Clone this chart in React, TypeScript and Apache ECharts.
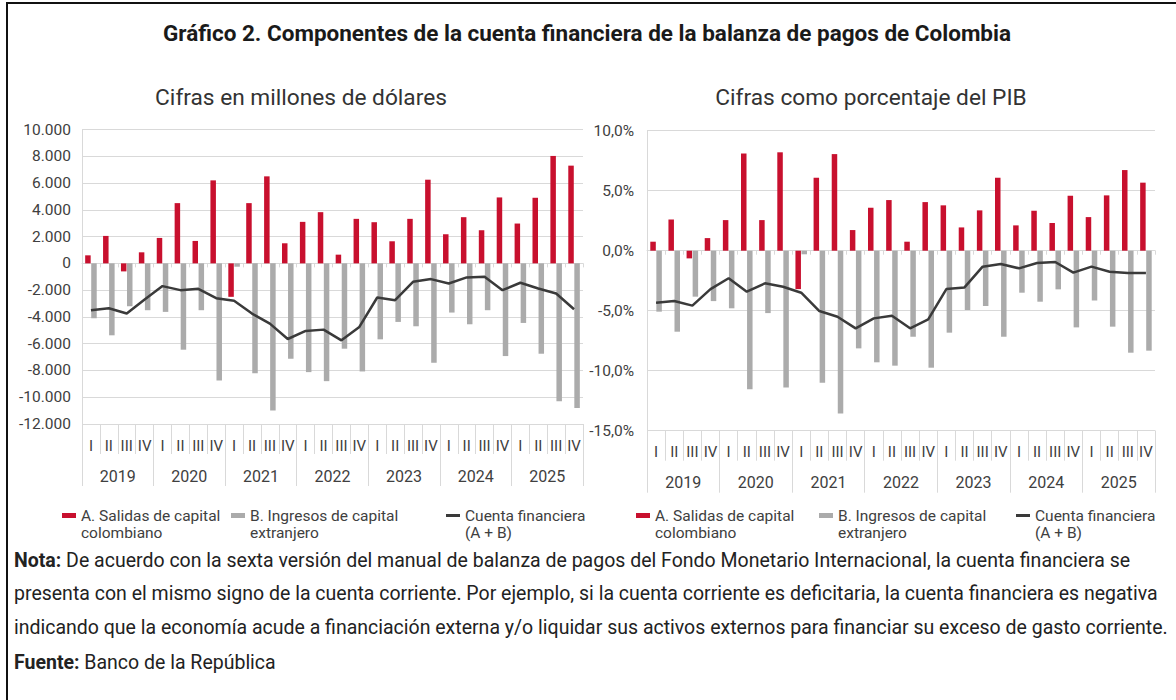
import React, { useEffect, useRef } from "react";
import * as echarts from "echarts";

const years = ["2019", "2020", "2021", "2022", "2023", "2024", "2025"];
const quarterLabels = ["I", "II", "III", "IV"];

// Millones de dólares
const salidasUSD = [600, 2050, -600, 825, 1900, 4500, 1675, 6200, -2500, 4500, 6500, 1500, 3100, 3825, 650, 3325, 3075, 1650, 3325, 6250, 2175, 3450, 2475, 4925, 2975, 4900, 8025, 7300];
const ingresosUSD = [-4100, -5375, -3200, -3500, -3625, -6450, -3500, -8750, -250, -8200, -11000, -7125, -8125, -8800, -6375, -8075, -5675, -4375, -4700, -7425, -3675, -4550, -3500, -6925, -4450, -6750, -10300, -10800];
const cuentaUSD = [-3500, -3350, -3750, -2700, -1700, -2000, -1900, -2600, -2800, -3750, -4500, -5650, -5050, -4950, -5750, -4750, -2550, -2750, -1375, -1175, -1500, -1050, -1000, -2000, -1450, -1875, -2250, -3425];

// Porcentaje del PIB
const salidasPIB = [0.75, 2.6, -0.64, 1.05, 2.55, 8.1, 2.55, 8.2, -3.2, 6.08, 8.05, 1.72, 3.58, 4.22, 0.75, 4.05, 3.78, 1.94, 3.36, 6.08, 2.11, 3.33, 2.31, 4.58, 2.8, 4.61, 6.72, 5.67];
const ingresosPIB = [-5.08, -6.75, -3.83, -4.2, -4.8, -11.55, -5.2, -11.4, -0.3, -11.0, -13.56, -8.14, -9.3, -9.58, -7.17, -9.75, -6.83, -4.94, -4.61, -7.17, -3.5, -4.25, -3.22, -6.39, -4.15, -6.33, -8.5, -8.33];
const cuentaPIB = [-4.33, -4.19, -4.58, -3.2, -2.3, -3.42, -2.72, -3.0, -3.5, -5.03, -5.5, -6.47, -5.64, -5.42, -6.47, -5.72, -3.2, -3.06, -1.33, -1.11, -1.47, -1.03, -0.94, -1.83, -1.33, -1.75, -1.86, -1.86];

const usdTicks = { min: -12000, max: 10000, interval: 2000 };
const pibTicks = { min: -15, max: 10, interval: 5 };

const nameA = "A. Salidas de capital\ncolombiano";
const nameB = "B. Ingresos de capital\nextranjero";
const nameC = "Cuenta financiera\n(A + B)";

const categories = years.flatMap((y) => quarterLabels.map((q) => q + " " + y));

const RED = "#C8102E";
const GRAY = "#ABABAB";
const DARK = "#3a3a3a";
const GRID = "#d9d9d9";
const TXT = "#404040";
const FONT = "Roboto";

function fmtUSD(v: number) {
  const s = Math.abs(v).toString().replace(/\B(?=(\d{3})+(?!\d))/g, ".");
  return (v < 0 ? "-" : "") + s;
}
function fmtPIB(v: number) {
  return v.toFixed(1).replace(".", ",") + "%";
}

function panel(gi: number, ticks: any, fmt: any, a: number[], b: number[], c: number[], labelMargins: number[]) {
  const xBase = gi * 3;
  const xAxis = [
    {
      type: "category", gridIndex: gi, data: categories, position: "bottom",
      axisLine: { show: true, onZero: true, lineStyle: { color: GRID } },
      axisTick: { show: true, length: 4, interval: 0, lineStyle: { color: GRID } },
      axisLabel: { show: false }, splitLine: { show: false },
    },
    {
      type: "category", gridIndex: gi, data: categories, position: "bottom",
      axisLine: { show: false, onZero: false },
      axisTick: { show: true, length: 30, interval: 0, lineStyle: { color: GRID } },
      axisLabel: { interval: 0, margin: labelMargins[0], fontSize: 15, color: TXT, fontFamily: FONT, formatter: (v: string) => v.split(" ")[0] },
      splitLine: { show: false },
    },
    {
      type: "category", gridIndex: gi, data: years, position: "bottom",
      axisLine: { show: false, onZero: false },
      axisTick: { show: true, length: 62, interval: 0, lineStyle: { color: GRID } },
      axisLabel: { interval: 0, margin: labelMargins[1], fontSize: 16, color: TXT, fontFamily: FONT },
      splitLine: { show: false },
    },
  ];
  const yAxis = {
    type: "value", gridIndex: gi, min: ticks.min, max: ticks.max, interval: ticks.interval,
    axisLine: { show: true, lineStyle: { color: GRID } },
    axisTick: { show: false },
    splitLine: { show: true, lineStyle: { color: GRID } },
    axisLabel: { formatter: fmt, fontSize: 15.5, color: TXT, fontFamily: FONT, margin: labelMargins[2] },
  };
  const series = [
    { type: "bar", name: nameA, xAxisIndex: xBase, yAxisIndex: gi, data: a, barWidth: 5.5, barGap: "10%", itemStyle: { color: RED } },
    { type: "bar", name: nameB, xAxisIndex: xBase, yAxisIndex: gi, data: b, barWidth: 5.5, barGap: "10%", itemStyle: { color: GRAY } },
    { type: "line", name: nameC, xAxisIndex: xBase, yAxisIndex: gi, data: c, symbol: "none", z: 5, itemStyle: { color: DARK }, lineStyle: { color: DARK, width: 2.5 } },
  ];
  return { xAxis, yAxis, series };
}

function legendItem(name: string, left: number, isLine: boolean) {
  return {
    data: [name], left, top: 490, orient: "horizontal", selectedMode: false, padding: 0,
    icon: "rect", itemWidth: 14, itemHeight: isLine ? 3 : 5, itemGap: 6,
    formatter: (n: string) => "\n" + n,
    textStyle: { fontSize: 15.5, lineHeight: 17, color: TXT, fontFamily: FONT },
  };
}

export default function App() {
  const ref = useRef<HTMLDivElement>(null);
  useEffect(() => {
    document.body.style.margin = "0";
    const chart = echarts.init(ref.current!, undefined, { renderer: "svg" });
    const L = panel(0, usdTicks, fmtUSD, salidasUSD, ingresosUSD, cuentaUSD, [14, 44, 11]);
    const R = panel(1, pibTicks, fmtPIB, salidasPIB, ingresosPIB, cuentaPIB, [14, 44, 13]);
    const noteStyle = { fontSize: 19.5, fill: "#222", fontFamily: FONT };
    const bold = { b: { fontWeight: "bold", fontSize: 19.5, fontFamily: FONT, fill: "#222" } };
    chart.setOption({
      animation: false,
      backgroundColor: "#ffffff",
      textStyle: { fontFamily: FONT },
      grid: [
        { left: 82, top: 129.5, width: 501, height: 294.5 },
        { left: 647, top: 130.7, width: 508, height: 300 },
      ],
      xAxis: [...L.xAxis, ...R.xAxis],
      yAxis: [L.yAxis, R.yAxis],
      series: [...L.series, ...R.series],
      legend: [
        legendItem(nameA, 62, false),
        legendItem(nameB, 231, false),
        legendItem(nameC, 446, true),
        legendItem(nameA, 636, false),
        legendItem(nameB, 819, false),
        legendItem(nameC, 1016, true),
      ],
      graphic: [
        { type: "rect", shape: { x: 7, y: 3, width: 1300, height: 900 }, style: { fill: "none", stroke: "#111", lineWidth: 2 }, silent: true },
        { type: "text", x: 587, y: 33, style: { text: "Gráfico 2. Componentes de la cuenta financiera de la balanza de pagos de Colombia", fontSize: 22.5, fontWeight: "bold", fill: "#1a1a1a", fontFamily: FONT, align: "center", verticalAlign: "middle" } },
        { type: "text", x: 301, y: 97, style: { text: "Cifras en millones de dólares", fontSize: 22.7, fill: "#333", fontFamily: FONT, align: "center", verticalAlign: "middle" } },
        { type: "text", x: 871, y: 97, style: { text: "Cifras como porcentaje del PIB", fontSize: 22.7, fill: "#333", fontFamily: FONT, align: "center", verticalAlign: "middle" } },
        { type: "text", x: 14, y: 560, style: { ...noteStyle, verticalAlign: "middle", text: "{b|Nota:} De acuerdo con la sexta versión del manual de balanza de pagos del Fondo Monetario Internacional, la cuenta financiera se", rich: bold } },
        { type: "text", x: 14, y: 593, style: { ...noteStyle, verticalAlign: "middle", text: "presenta con el mismo signo de la cuenta corriente. Por ejemplo, si la cuenta corriente es deficitaria, la cuenta financiera es negativa" } },
        { type: "text", x: 14, y: 627, style: { ...noteStyle, verticalAlign: "middle", text: "indicando que la economía acude a financiación externa y/o liquidar sus activos externos para financiar su exceso de gasto corriente." } },
        { type: "text", x: 14, y: 662, style: { ...noteStyle, verticalAlign: "middle", text: "{b|Fuente:} Banco de la República", rich: bold } },
      ],
    });
    return () => chart.dispose();
  }, []);
  return <div ref={ref} style={{ width: 1176, height: 700 }} />;
}
